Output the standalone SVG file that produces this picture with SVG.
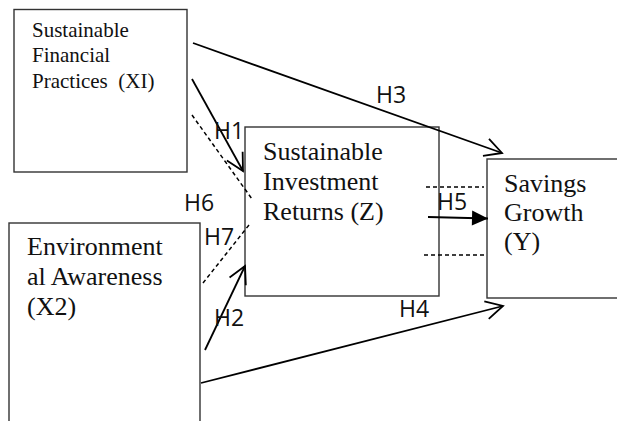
<svg xmlns="http://www.w3.org/2000/svg" width="617" height="421" viewBox="0 0 617 421">
<style>
.box{fill:#fff;stroke:#333;stroke-width:1.4}
.t{font-family:"Liberation Serif","Times New Roman",serif;fill:#111}
.lbl{font-family:"Open Sans","Liberation Sans",sans-serif;font-size:23px;fill:#111}
.c{stroke:#000;stroke-width:1.8;fill:none}
.d{stroke:#000;stroke-width:1.5;fill:none;stroke-dasharray:4 3}
</style>
<defs>
<marker id="open" markerUnits="userSpaceOnUse" viewBox="-20 -12 22 24" markerWidth="22" markerHeight="24" refX="0" refY="0" orient="auto" overflow="visible">
<path d="M-17,-9 L0,0 L-17,9" fill="none" stroke="#000" stroke-width="1.8"/>
</marker>
<marker id="solid" markerUnits="userSpaceOnUse" viewBox="-17 -8 18 16" markerWidth="18" markerHeight="16" refX="0" refY="0" orient="auto" overflow="visible">
<path d="M-16,-7.5 L0,0 L-16,7.5 Z" fill="#000"/>
</marker>
</defs>
<rect width="617" height="421" fill="#fff"/>
<g id="X1">
<rect class="box" x="14" y="9.5" width="173" height="162.5"/>
<text class="t" font-size="21" x="32" y="37">Sustainable</text>
<text class="t" font-size="21" x="32" y="62">Financial</text>
<text class="t" font-size="21" x="32" y="87.5" xml:space="preserve">Practices  (XI)</text>
</g>
<g id="X2">
<rect class="box" x="9" y="223" width="191" height="230"/>
<text class="t" font-size="26" x="27" y="255">Environment</text>
<text class="t" font-size="26" x="27" y="285">al Awareness</text>
<text class="t" font-size="26" x="27" y="315">(X2)</text>
</g>
<g id="Z">
<rect class="box" x="245" y="127" width="194" height="169"/>
<text class="t" font-size="26" x="263" y="160">Sustainable</text>
<text class="t" font-size="26" x="263" y="189.5">Investment</text>
<text class="t" font-size="26" x="263" y="219.5">Returns (Z)</text>
</g>
<g id="Y">
<rect class="box" x="487" y="159" width="150" height="139"/>
<text class="t" font-size="26" x="504" y="192">Savings</text>
<text class="t" font-size="26" x="504" y="221">Growth</text>
<text class="t" font-size="26" x="504" y="250">(Y)</text>
</g>
<g id="connectors">
<line class="c" x1="193" y1="43" x2="502" y2="153" marker-end="url(#open)"/>
<line class="c" x1="192" y1="79" x2="243" y2="171" marker-end="url(#open)"/>
<line class="c" x1="205" y1="350" x2="245" y2="266" marker-end="url(#open)"/>
<line class="c" x1="201" y1="383" x2="503" y2="306" marker-end="url(#open)"/>
<line class="c" x1="428" y1="217" x2="488" y2="218.5" marker-end="url(#solid)"/>
<line class="d" x1="192" y1="115" x2="252" y2="199"/>
<line class="d" x1="203" y1="283" x2="249" y2="225"/>
<line class="d" x1="426" y1="187" x2="484" y2="187"/>
<line class="d" x1="424" y1="255" x2="486" y2="255"/>
</g>
<g id="labels">
<text class="lbl" x="214" y="139">H1</text>
<text class="lbl" x="214" y="326">H2</text>
<text class="lbl" x="376" y="103">H3</text>
<text class="lbl" x="399" y="317">H4</text>
<text class="lbl" x="437" y="210">H5</text>
<text class="lbl" x="184" y="211">H6</text>
<text class="lbl" x="204" y="245">H7</text>
</g>
</svg>
